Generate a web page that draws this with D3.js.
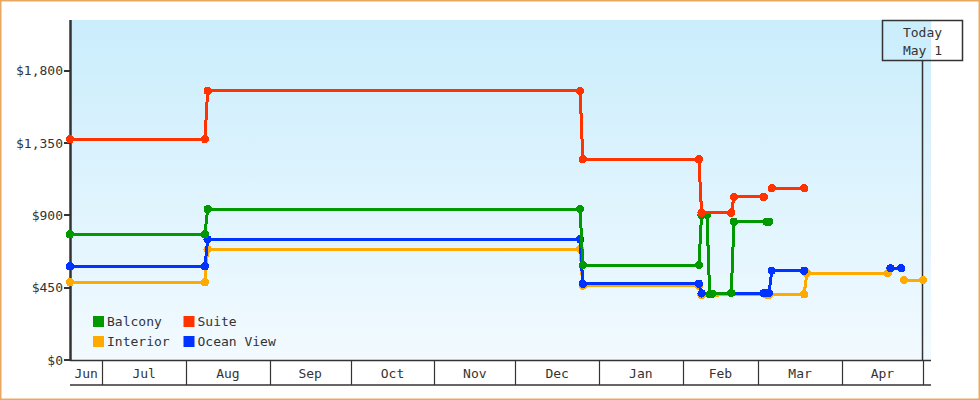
<!DOCTYPE html>
<html>
<head>
<meta charset="utf-8">
<script src="https://cdn.jsdelivr.net/npm/d3@7"></script>
<style>
    body { margin: 0; background: #fff; }
    svg text { font-family: "DejaVu Sans Mono", monospace; font-size: 13px; fill: #333; }
</style>
</head>
<body>
<div id="chart"></div>
<script>
/* * * * * * * * * * * * * *
 *   Cabin price history   *
 * * * * * * * * * * * * * */

// Legend order
const categories = ["Balcony", "Suite", "Interior", "Ocean View"];

// [date, price] pairs, [null, null] means a hole in the line
const balcony = [
    ["2024-06-19", 783], ["2024-08-08", 783], ["2024-08-09", 940],
    ["2024-12-25", 940], ["2024-12-26", 592], ["2025-02-07", 592],
    ["2025-02-08", 903], ["2025-02-10", 903], ["2025-02-11", 410],
    ["2025-02-12", 414], ["2025-02-19", 418], ["2025-02-20", 861],
    ["2025-03-04", 861], ["2025-03-05", 861]
];
const suite = [
    ["2024-06-19", 1374], ["2024-08-08", 1374], ["2024-08-09", 1674],
    ["2024-12-25", 1674], ["2024-12-26", 1249], ["2025-02-07", 1249],
    ["2025-02-08", 917], ["2025-02-19", 917], ["2025-02-20", 1015],
    ["2025-03-03", 1015], [null, null],
    ["2025-03-06", 1069], ["2025-03-18", 1069]
];
const interior = [
    ["2024-06-19", 485], ["2024-08-08", 485], ["2024-08-09", 690],
    ["2024-12-25", 690], ["2024-12-26", 464], ["2025-02-07", 464],
    ["2025-02-08", 405], ["2025-03-04", 408], ["2025-03-05", 408],
    ["2025-03-18", 410], ["2025-03-19", 541], ["2025-04-18", 541],
    [null, null],
    ["2025-04-24", 499], ["2025-05-01", 499]
];
const oceanView = [
    ["2024-06-19", 584], ["2024-08-08", 584], ["2024-08-09", 752],
    ["2024-12-25", 752], ["2024-12-26", 476], ["2025-02-07", 476],
    ["2025-02-08", 416], ["2025-03-03", 418], ["2025-03-04", 418],
    ["2025-03-05", 418], ["2025-03-06", 557], ["2025-03-18", 557],
    [null, null],
    ["2025-04-19", 572], ["2025-04-23", 572]
];

const yTicks = [0, 450, 900, 1350, 1800];
const dateRange = ["2024-06-19", "2025-05-04"];
const today = "2025-05-01";
const todayLabel = ["Today", "May 1"];

const colors = {
    "Balcony": "#009900",
    "Suite": "#ff3300",
    "Interior": "#ffaa00",
    "Ocean View": "#0033ff"
};
// drawing order, back to front
const seriesList = [
    { name: "Interior", values: interior },
    { name: "Ocean View", values: oceanView },
    { name: "Balcony", values: balcony },
    { name: "Suite", values: suite }
];

const W = 980, H = 400;
const plot = { left: 71, right: 931, top: 20, bottom: 360 };
const parse = d3.utcParse("%Y-%m-%d");

const svg = d3.select("#chart").append("svg")
    .attr("width", W)
    .attr("height", H);

// outer frame
svg.append("rect")
    .attr("x", 0.75).attr("y", 0.75)
    .attr("width", W - 1.5).attr("height", H - 1.5)
    .attr("fill", "#fff")
    .attr("stroke", "#e8a862")
    .attr("stroke-width", 1.5);

// Background gradient
const grad = svg.append("defs").append("linearGradient")
    .attr("id", "bg").attr("x1", 0).attr("y1", 0).attr("x2", 0).attr("y2", 1);
grad.append("stop").attr("offset", "0%").attr("stop-color", "#caedfc");
grad.append("stop").attr("offset", "100%").attr("stop-color", "#f2faff");

svg.append("rect")
    .attr("x", plot.left).attr("y", plot.top)
    .attr("width", plot.right - plot.left)
    .attr("height", plot.bottom - plot.top)
    .attr("fill", "url(#bg)");

// Scales
const x = d3.scaleUtc()
    .domain(dateRange.map(parse))
    .range([70, plot.right]);
const y = d3.scaleLinear()
    .domain([0, 2115])
    .range([360.3, plot.top]);

// Y axis
const yAxis = svg.append("g").attr("class", "y-axis");
yAxis.append("line")
    .attr("x1", plot.left - 0.5).attr("x2", plot.left - 0.5)
    .attr("y1", plot.top).attr("y2", plot.bottom + 1)
    .attr("stroke", "#333").attr("stroke-width", 2.5);
yAxis.selectAll(".tick")
    .data(yTicks)
    .enter()
    .append("line")
    .attr("x1", 64).attr("x2", plot.left)
    .attr("y1", d => Math.round(y(d)))
    .attr("y2", d => Math.round(y(d)))
    .attr("stroke", "#333").attr("stroke-width", 2);
yAxis.selectAll(".tick-label")
    .data(yTicks)
    .enter()
    .append("text")
    .attr("x", 63)
    .attr("y", d => y(d) + 4.5)
    .attr("text-anchor", "end")
    .text(d => "$" + d3.format(",")(d));

// X axis: month bands
const xAxis = svg.append("g").attr("class", "x-axis");
const xDom = x.domain();
const months = d3.utcMonth.range(d3.utcMonth.floor(xDom[0]), xDom[1]);

xAxis.append("line")
    .attr("x1", 70).attr("x2", plot.right)
    .attr("y1", 360.5).attr("y2", 360.5)
    .attr("stroke", "#333").attr("stroke-width", 1.5);
xAxis.append("line")
    .attr("x1", 70).attr("x2", plot.right)
    .attr("y1", 385).attr("y2", 385)
    .attr("stroke", "#333").attr("stroke-width", 1.5);

xAxis.selectAll(".sep")
    .data(months.filter(m => m > xDom[0]))
    .enter()
    .append("line")
    .attr("x1", d => Math.round(x(d)) + 0.5)
    .attr("x2", d => Math.round(x(d)) + 0.5)
    .attr("y1", 360).attr("y2", 385)
    .attr("stroke", "#333").attr("stroke-width", 1.2);

xAxis.selectAll(".month-label")
    .data(months.filter(m => {
        let x0 = Math.max(x(m), 70), x1 = Math.min(x(d3.utcMonth.offset(m, 1)), plot.right);
        return x1 - x0 > 25;
    }))
    .enter()
    .append("text")
    .attr("x", d => (Math.max(x(d), 70) + Math.min(x(d3.utcMonth.offset(d, 1)), plot.right)) / 2)
    .attr("y", 377.5)
    .attr("text-anchor", "middle")
    .text(d3.utcFormat("%b"));

// Today marker
const tx = x(parse(today));
svg.append("line")
    .attr("x1", Math.round(tx) - 0.5).attr("x2", Math.round(tx) - 0.5)
    .attr("y1", 60).attr("y2", 360)
    .attr("stroke", "#333").attr("stroke-width", 1.5);
svg.append("rect")
    .attr("x", 882.5).attr("y", 20.5)
    .attr("width", 80).attr("height", 40)
    .attr("fill", "none")
    .attr("stroke", "#333").attr("stroke-width", 1.5);
svg.selectAll(".today-label")
    .data(todayLabel)
    .enter()
    .append("text")
    .attr("x", 922.5)
    .attr("y", (d, i) => 37 + i * 18)
    .attr("text-anchor", "middle")
    .text(d => d);

// Lines and points
const line = d3.line()
    .defined(d => d[1] != null)
    .x(d => x(parse(d[0])))
    .y(d => y(d[1]));

const series = svg.selectAll(".series")
    .data(seriesList)
    .enter()
    .append("g")
    .attr("class", "series");

series.append("path")
    .attr("d", d => line(d.values))
    .attr("fill", "none")
    .attr("stroke", d => colors[d.name])
    .attr("stroke-width", 3)
    .attr("shape-rendering", "crispEdges");

series.selectAll("circle")
    .data(d => d.values.filter(p => p[1] != null).map(p => ({ p: p, name: d.name })))
    .enter()
    .append("circle")
    .attr("cx", d => x(parse(d.p[0])))
    .attr("cy", d => y(d.p[1]))
    .attr("r", 4.2)
    .attr("fill", d => colors[d.name])
    .attr("shape-rendering", "crispEdges");

// Legend
const legend = svg.selectAll(".legend")
    .data(categories)
    .enter()
    .append("g")
    .attr("class", "legend")
    .attr("transform", (d, i) => `translate(${93 + (i % 2) * 90.5}, ${316 + Math.floor(i / 2) * 20})`);

legend.append("rect")
    .attr("width", 11).attr("height", 11)
    .attr("fill", d => colors[d]);
legend.append("text")
    .attr("x", 14)
    .attr("y", 9.5)
    .text(d => d);
</script>
</body>
</html>
